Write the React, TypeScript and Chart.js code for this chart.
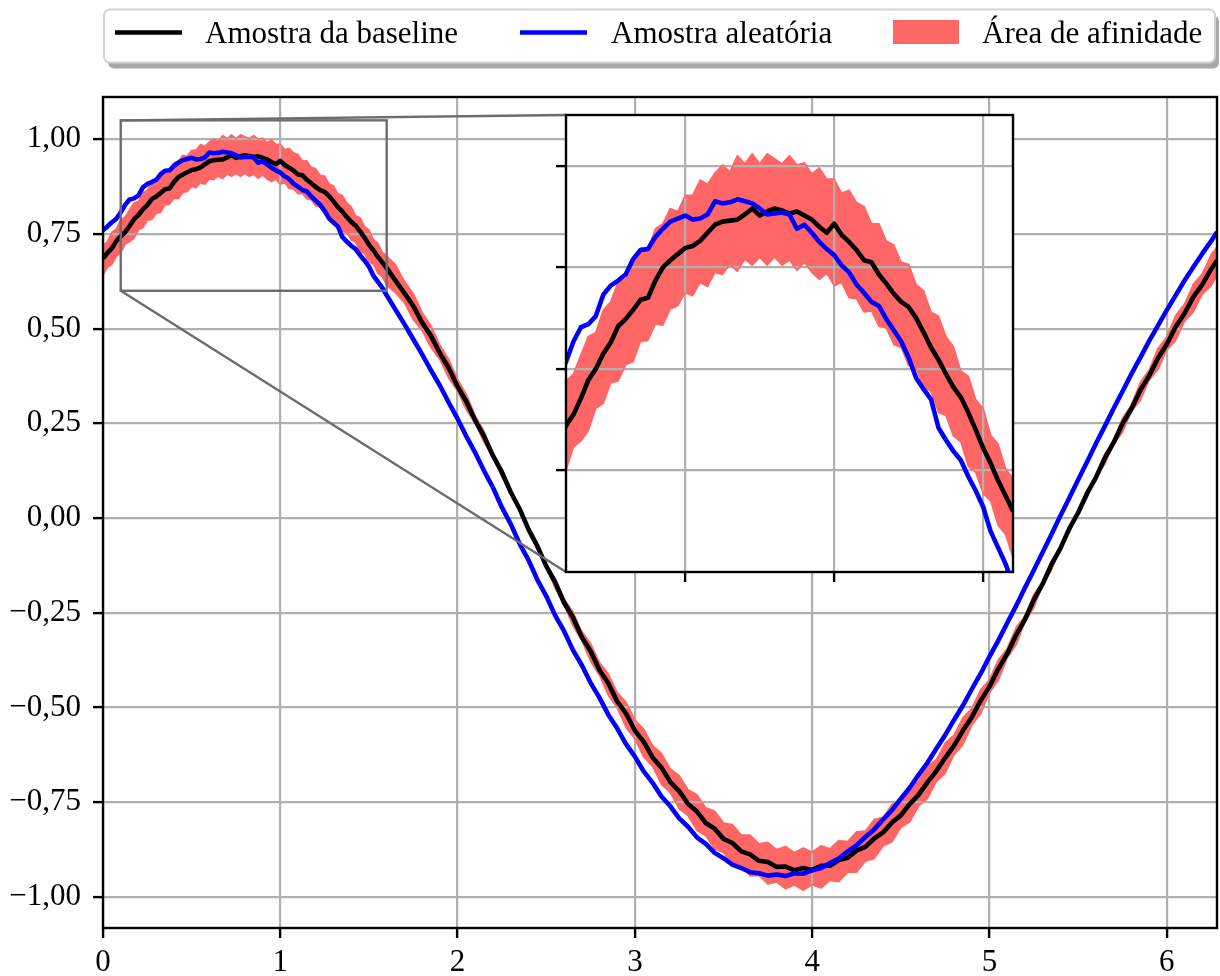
import { useEffect, useRef } from 'react';
import { Chart, registerables } from 'chart.js';

Chart.register(...registerables);

// Sample positions (denser over the zoomed stretch 0 – 1.6)
const xs = [
  0, 0.025, 0.05, 0.075, 0.1, 0.125, 0.15, 0.175, 0.2, 0.225,
  0.25, 0.275, 0.3, 0.325, 0.35, 0.375, 0.4, 0.425, 0.45, 0.475,
  0.5, 0.525, 0.55, 0.575, 0.6, 0.625, 0.65, 0.675, 0.7, 0.725,
  0.75, 0.775, 0.8, 0.825, 0.85, 0.875, 0.9, 0.925, 0.95, 0.975,
  1.0, 1.025, 1.05, 1.075, 1.1, 1.125, 1.15, 1.175, 1.2, 1.225,
  1.25, 1.275, 1.3, 1.325, 1.35, 1.375, 1.4, 1.425, 1.45, 1.475,
  1.5, 1.525, 1.55, 1.575, 1.6,
  1.65, 1.7, 1.75, 1.8, 1.85, 1.9, 1.95, 2.0, 2.05, 2.1,
  2.15, 2.2, 2.25, 2.3, 2.35, 2.4, 2.45, 2.5, 2.55, 2.6,
  2.65, 2.7, 2.75, 2.8, 2.85, 2.9, 2.95, 3.0, 3.05, 3.1,
  3.15, 3.2, 3.25, 3.3, 3.35, 3.4, 3.45, 3.5, 3.55, 3.6,
  3.65, 3.7, 3.75, 3.8, 3.85, 3.9, 3.95, 4.0, 4.05, 4.1,
  4.15, 4.2, 4.25, 4.3, 4.35, 4.4, 4.45, 4.5, 4.55, 4.6,
  4.65, 4.7, 4.75, 4.8, 4.85, 4.9, 4.95, 5.0, 5.05, 5.1,
  5.15, 5.2, 5.25, 5.3, 5.35, 5.4, 5.45, 5.5, 5.55, 5.6,
  5.65, 5.7, 5.75, 5.8, 5.85, 5.9, 5.95, 6.0, 6.05, 6.1,
  6.15, 6.2, 6.25, 6.2832,
];

// "Amostra da baseline"
const baseline = [
  0.686, 0.700, 0.712, 0.731, 0.744, 0.755, 0.771, 0.789, 0.800, 0.815,
  0.826, 0.842, 0.849, 0.858, 0.868, 0.870, 0.887, 0.900, 0.907, 0.913,
  0.919, 0.921, 0.926, 0.934, 0.942, 0.945, 0.946, 0.947, 0.952, 0.958,
  0.951, 0.955, 0.958, 0.956, 0.953, 0.955, 0.951, 0.947, 0.940, 0.934,
  0.943, 0.932, 0.925, 0.917, 0.907, 0.905, 0.893, 0.884, 0.874, 0.866,
  0.861, 0.850, 0.836, 0.821, 0.809, 0.795, 0.782, 0.772, 0.757, 0.740,
  0.722, 0.707, 0.690, 0.675, 0.660,
  0.627, 0.594, 0.560, 0.516, 0.481, 0.435, 0.396, 0.347, 0.307, 0.257,
  0.215, 0.164, 0.121, 0.068, 0.024, -0.030, -0.074, -0.127, -0.169, -0.223,
  -0.262, -0.314, -0.351, -0.401, -0.436, -0.484, -0.516, -0.561, -0.591, -0.632,
  -0.659, -0.697, -0.721, -0.755, -0.775, -0.805, -0.820, -0.847, -0.858, -0.880,
  -0.888, -0.905, -0.908, -0.921, -0.920, -0.930, -0.924, -0.929, -0.918, -0.918,
  -0.903, -0.897, -0.878, -0.868, -0.846, -0.830, -0.804, -0.785, -0.755, -0.731,
  -0.698, -0.668, -0.633, -0.601, -0.561, -0.526, -0.482, -0.445, -0.398, -0.358,
  -0.309, -0.268, -0.216, -0.174, -0.122, -0.080, -0.028, 0.014, 0.065, 0.107,
  0.158, 0.199, 0.249, 0.288, 0.337, 0.375, 0.422, 0.459, 0.505, 0.540,
  0.584, 0.616, 0.657, 0.680,
];

// "Amostra aleatória"
const randomSample = [
  0.760, 0.770, 0.781, 0.790, 0.807, 0.827, 0.841, 0.844, 0.852, 0.873,
  0.882, 0.887, 0.893, 0.908, 0.917, 0.918, 0.930, 0.938, 0.945, 0.948,
  0.951, 0.947, 0.948, 0.952, 0.965, 0.963, 0.964, 0.967, 0.965, 0.963,
  0.958, 0.952, 0.953, 0.954, 0.952, 0.938, 0.942, 0.934, 0.925, 0.918,
  0.912, 0.902, 0.895, 0.883, 0.875, 0.866, 0.862, 0.849, 0.838, 0.827,
  0.811, 0.791, 0.780, 0.770, 0.742, 0.730, 0.719, 0.710, 0.694, 0.680,
  0.664, 0.640, 0.624, 0.608, 0.588,
  0.550, 0.512, 0.472, 0.432, 0.390, 0.350, 0.305, 0.262, 0.215, 0.172,
  0.124, 0.080, 0.028, -0.016, -0.068, -0.111, -0.163, -0.206, -0.257, -0.298,
  -0.348, -0.388, -0.435, -0.474, -0.519, -0.555, -0.597, -0.630, -0.669, -0.699,
  -0.735, -0.761, -0.793, -0.815, -0.843, -0.860, -0.884, -0.898, -0.915, -0.924,
  -0.935, -0.938, -0.944, -0.941, -0.945, -0.938, -0.939, -0.930, -0.924, -0.911,
  -0.899, -0.880, -0.864, -0.842, -0.822, -0.796, -0.771, -0.741, -0.712, -0.678,
  -0.646, -0.609, -0.573, -0.533, -0.495, -0.452, -0.411, -0.366, -0.323, -0.277,
  -0.232, -0.184, -0.138, -0.090, -0.043, 0.006, 0.053, 0.101, 0.148, 0.196,
  0.242, 0.289, 0.334, 0.380, 0.423, 0.467, 0.508, 0.549, 0.588, 0.627,
  0.663, 0.698, 0.731, 0.755,
];

// "Área de afinidade" – upper and lower edges
const bandUpper = [
  0.719, 0.730, 0.755, 0.763, 0.788, 0.795, 0.814, 0.832, 0.836, 0.858,
  0.866, 0.886, 0.888, 0.905, 0.919, 0.919, 0.938, 0.943, 0.958, 0.955,
  0.971, 0.971, 0.986, 0.982, 0.993, 1.001, 0.994, 1.010, 1.002, 1.012,
  1.002, 1.012, 1.007, 1.002, 1.010, 1.001, 1.003, 0.992, 0.998, 0.987,
  0.987, 0.973, 0.976, 0.964, 0.960, 0.943, 0.943, 0.926, 0.922, 0.905,
  0.903, 0.883, 0.877, 0.856, 0.852, 0.832, 0.822, 0.798, 0.793, 0.770,
  0.761, 0.735, 0.726, 0.702, 0.692,
  0.669, 0.625, 0.593, 0.543, 0.508, 0.457, 0.419, 0.366, 0.326, 0.270,
  0.229, 0.172, 0.128, 0.071, 0.026, -0.024, -0.069, -0.121, -0.159, -0.212,
  -0.247, -0.299, -0.331, -0.381, -0.411, -0.460, -0.486, -0.533, -0.557, -0.601,
  -0.621, -0.662, -0.680, -0.717, -0.730, -0.765, -0.773, -0.805, -0.809, -0.837,
  -0.837, -0.860, -0.856, -0.875, -0.867, -0.883, -0.871, -0.882, -0.865, -0.873,
  -0.851, -0.854, -0.828, -0.826, -0.796, -0.790, -0.756, -0.747, -0.709, -0.695,
  -0.654, -0.638, -0.594, -0.573, -0.527, -0.503, -0.453, -0.426, -0.374, -0.344,
  -0.289, -0.258, -0.201, -0.169, -0.112, -0.080, -0.023, 0.020, 0.071, 0.109,
  0.169, 0.205, 0.264, 0.299, 0.358, 0.391, 0.448, 0.479, 0.535, 0.565,
  0.618, 0.645, 0.695, 0.716,
];

const bandLower = [
  0.641, 0.662, 0.669, 0.691, 0.700, 0.723, 0.729, 0.739, 0.761, 0.766,
  0.786, 0.788, 0.804, 0.807, 0.827, 0.828, 0.844, 0.843, 0.859, 0.862,
  0.875, 0.872, 0.885, 0.881, 0.895, 0.893, 0.903, 0.896, 0.908, 0.902,
  0.910, 0.902, 0.910, 0.902, 0.907, 0.897, 0.905, 0.895, 0.888, 0.894,
  0.882, 0.885, 0.870, 0.869, 0.856, 0.857, 0.842, 0.840, 0.824, 0.821,
  0.803, 0.801, 0.782, 0.778, 0.757, 0.754, 0.734, 0.728, 0.704, 0.698,
  0.677, 0.670, 0.646, 0.637, 0.614,
  0.595, 0.568, 0.524, 0.495, 0.450, 0.418, 0.369, 0.335, 0.285, 0.249,
  0.198, 0.161, 0.108, 0.070, 0.016, -0.032, -0.085, -0.128, -0.186, -0.228,
  -0.284, -0.323, -0.378, -0.415, -0.468, -0.501, -0.553, -0.583, -0.631, -0.656,
  -0.703, -0.725, -0.768, -0.786, -0.825, -0.839, -0.874, -0.883, -0.914, -0.917,
  -0.945, -0.944, -0.966, -0.961, -0.979, -0.969, -0.983, -0.968, -0.977, -0.957,
  -0.960, -0.936, -0.935, -0.906, -0.899, -0.866, -0.855, -0.817, -0.802, -0.761,
  -0.741, -0.696, -0.674, -0.625, -0.599, -0.547, -0.517, -0.462, -0.428, -0.370,
  -0.335, -0.274, -0.237, -0.175, -0.138, -0.076, -0.039, 0.012, 0.053, 0.109,
  0.141, 0.195, 0.226, 0.281, 0.310, 0.363, 0.392, 0.443, 0.469, 0.519,
  0.544, 0.591, 0.613, 0.640,
];

const xTicks = [0, 1, 2, 3, 4, 5, 6];
const yTicks = [-1, -0.75, -0.5, -0.25, 0, 0.25, 0.5, 0.75, 1];
const insetXTicks = [0.5, 1.0, 1.5];
const insetYTicks = [0.7, 0.8, 0.9, 1.0];
const zoomXRange = [0.1, 1.6];
const zoomYRange = [0.6, 1.05];
const legendLabels = ['Amostra da baseline', 'Amostra aleatória', 'Área de afinidade'];

// Layout of the magnified panel on the page
const INSET = { left: 566, top: 115, right: 1013, bottom: 572 };
const INSET_CANVAS = { left: 556, top: 105, width: 462, height: 477 };

const FONT_FAMILY = '"Liberation Serif", "Times New Roman", Times, serif';
const RED = '#ff6666';
const GRID = '#b0b0b0';
const LINE_W = 4.6;

const toPoints = (ys: number[]) => xs.map((x, i) => ({ x, y: ys[i] }));

const fmtY = (v: number) => v.toFixed(2).replace('.', ',').replace('-', '\u2212');

function makeDatasets(): any[] {
  return [
    {
      label: legendLabels[0],
      data: toPoints(baseline),
      borderColor: '#000000',
      borderWidth: LINE_W,
      pointRadius: 0,
      fill: false,
      order: 2,
      clip: 0,
    },
    {
      label: legendLabels[1],
      data: toPoints(randomSample),
      borderColor: '#0000ff',
      borderWidth: LINE_W,
      pointRadius: 0,
      fill: false,
      order: 1,
      clip: 0,
    },
    {
      label: legendLabels[2],
      data: toPoints(bandUpper),
      borderColor: RED,
      borderWidth: 1.5,
      backgroundColor: RED,
      pointRadius: 0,
      fill: '+1',
      order: 3,
      clip: 0,
    },
    {
      label: 'lower',
      data: toPoints(bandLower),
      borderColor: RED,
      borderWidth: 1.5,
      pointRadius: 0,
      fill: false,
      order: 4,
      clip: 0,
    },
  ];
}

function roundedRect(ctx: CanvasRenderingContext2D, x: number, y: number, w: number, h: number, r: number) {
  ctx.beginPath();
  ctx.moveTo(x + r, y);
  ctx.lineTo(x + w - r, y);
  ctx.arcTo(x + w, y, x + w, y + r, r);
  ctx.lineTo(x + w, y + h - r);
  ctx.arcTo(x + w, y + h, x + w - r, y + h, r);
  ctx.lineTo(x + r, y + h);
  ctx.arcTo(x, y + h, x, y + h - r, r);
  ctx.lineTo(x, y + r);
  ctx.arcTo(x, y, x + r, y, r);
  ctx.closePath();
}

const mainOverlay = {
  id: 'mainOverlay',
  afterDatasetsDraw(chart: any) {
    const ctx: CanvasRenderingContext2D = chart.ctx;
    const { left, top, right, bottom } = chart.chartArea;
    const sx = chart.scales.x;
    const sy = chart.scales.y;
    ctx.save();

    // zoom window marker and connector lines
    const rx0 = sx.getPixelForValue(zoomXRange[0]);
    const rx1 = sx.getPixelForValue(zoomXRange[1]);
    const ry0 = sy.getPixelForValue(zoomYRange[1]);
    const ry1 = sy.getPixelForValue(zoomYRange[0]);
    ctx.strokeStyle = '#6c6c6c';
    ctx.lineWidth = 2.4;
    ctx.strokeRect(rx0, ry0, rx1 - rx0, ry1 - ry0);
    ctx.beginPath();
    ctx.moveTo(rx0, ry0);
    ctx.lineTo(INSET.left, INSET.top);
    ctx.moveTo(rx0, ry1);
    ctx.lineTo(INSET.left, INSET.bottom);
    ctx.stroke();

    // spines
    ctx.strokeStyle = '#000000';
    ctx.lineWidth = 2.4;
    ctx.strokeRect(left, top, right - left, bottom - top);
    ctx.restore();
  },
  afterDraw(chart: any) {
    const ctx: CanvasRenderingContext2D = chart.ctx;
    ctx.save();
    // legend frame with drop shadow
    const bx = 104, by = 9.5, bw = 1111, bh = 53, r = 6;
    roundedRect(ctx, bx + 4, by + 6, bw, bh, r);
    ctx.fillStyle = '#a8a8a8';
    ctx.fill();
    roundedRect(ctx, bx, by, bw, bh, r);
    ctx.fillStyle = '#ffffff';
    ctx.fill();
    ctx.strokeStyle = '#d2d2d2';
    ctx.lineWidth = 2;
    ctx.stroke();

    const midY = 32.5;
    ctx.lineCap = 'butt';
    ctx.lineWidth = LINE_W;
    ctx.strokeStyle = '#000000';
    ctx.beginPath();
    ctx.moveTo(115, midY);
    ctx.lineTo(182, midY);
    ctx.stroke();
    ctx.strokeStyle = '#0000ff';
    ctx.beginPath();
    ctx.moveTo(520, midY);
    ctx.lineTo(587, midY);
    ctx.stroke();
    ctx.fillStyle = RED;
    ctx.fillRect(893, 20, 66, 24);

    ctx.fillStyle = '#000000';
    ctx.font = `31px ${FONT_FAMILY}`;
    ctx.textBaseline = 'alphabetic';
    ctx.textAlign = 'left';
    ctx.fillText(legendLabels[0], 205, 43);
    ctx.fillText(legendLabels[1], 611, 43);
    ctx.fillText(legendLabels[2], 982, 43);
    ctx.restore();
  },
};

const insetOverlay = {
  id: 'insetOverlay',
  afterDatasetsDraw(chart: any) {
    const ctx: CanvasRenderingContext2D = chart.ctx;
    const { left, top, right, bottom } = chart.chartArea;
    ctx.save();
    ctx.strokeStyle = '#000000';
    ctx.lineWidth = 2.4;
    ctx.strokeRect(left, top, right - left, bottom - top);
    ctx.restore();
  },
};

function gridOpts() {
  return {
    color: GRID,
    lineWidth: 2.2,
    tickColor: '#000000',
    tickWidth: 2.4,
    tickLength: 10,
    drawTicks: true,
  };
}

export default function App() {
  const mainRef = useRef<HTMLCanvasElement>(null);
  const insetRef = useRef<HTMLCanvasElement>(null);

  useEffect(() => {
    document.body.style.margin = '0';
    const tickFont = { family: FONT_FAMILY, size: 31 };

    const main = new Chart(mainRef.current as HTMLCanvasElement, {
      type: 'line',
      data: { datasets: makeDatasets() },
      options: {
        responsive: false,
        animation: false,
        devicePixelRatio: 1,
        events: [],
        layout: { padding: { left: 0, right: 3, top: 97, bottom: 0 } },
        elements: { line: { tension: 0, borderJoinStyle: 'round' }, point: { radius: 0 } },
        plugins: {
          legend: { display: false },
          tooltip: { enabled: false },
          filler: { drawTime: 'beforeDraw' },
        },
        scales: {
          x: {
            type: 'linear',
            min: 0,
            max: 2 * Math.PI,
            border: { display: false },
            grid: gridOpts(),
            afterBuildTicks: (s: any) => { s.ticks = xTicks.map((v) => ({ value: v })); },
            afterFit: (s: any) => { s.height = 48; },
            ticks: {
              font: tickFont,
              color: '#000000',
              padding: 6,
              autoSkip: false,
              maxRotation: 0,
              callback: (v: any) => String(v),
            },
          },
          y: {
            type: 'linear',
            min: -1.0823,
            max: 1.1116,
            border: { display: false },
            grid: gridOpts(),
            afterBuildTicks: (s: any) => { s.ticks = yTicks.map((v) => ({ value: v })); },
            afterFit: (s: any) => { s.width = 103; },
            ticks: {
              font: tickFont,
              color: '#000000',
              padding: 12,
              autoSkip: false,
              callback: (v: any) => fmtY(Number(v)),
            },
          },
        },
      } as any,
      plugins: [mainOverlay],
    });

    const inset = new Chart(insetRef.current as HTMLCanvasElement, {
      type: 'line',
      data: { datasets: makeDatasets() },
      options: {
        responsive: false,
        animation: false,
        devicePixelRatio: 1,
        events: [],
        layout: { padding: { left: 0, right: 5, top: 10, bottom: 0 } },
        elements: { line: { tension: 0, borderJoinStyle: 'round' }, point: { radius: 0 } },
        plugins: {
          legend: { display: false },
          tooltip: { enabled: false },
          filler: { drawTime: 'beforeDraw' },
        },
        scales: {
          x: {
            type: 'linear',
            min: zoomXRange[0],
            max: zoomXRange[1],
            border: { display: false },
            grid: gridOpts(),
            afterBuildTicks: (s: any) => { s.ticks = insetXTicks.map((v) => ({ value: v })); },
            afterFit: (s: any) => { s.height = 10; },
            ticks: { display: false },
          },
          y: {
            type: 'linear',
            min: zoomYRange[0],
            max: zoomYRange[1],
            border: { display: false },
            grid: gridOpts(),
            afterBuildTicks: (s: any) => { s.ticks = insetYTicks.map((v) => ({ value: v })); },
            afterFit: (s: any) => { s.width = 10; },
            ticks: { display: false },
          },
        },
      } as any,
      plugins: [insetOverlay],
    });

    return () => {
      main.destroy();
      inset.destroy();
    };
  }, []);

  return (
    <div style={{ position: 'absolute', left: 0, top: 0, width: 1220, height: 976, background: '#ffffff' }}>
      <canvas
        ref={mainRef}
        width={1220}
        height={976}
        style={{ position: 'absolute', left: 0, top: 0 }}
      />
      <div
        style={{
          position: 'absolute',
          left: INSET.left,
          top: INSET.top,
          width: INSET.right - INSET.left,
          height: INSET.bottom - INSET.top,
          background: '#ffffff',
        }}
      />
      <canvas
        ref={insetRef}
        width={INSET_CANVAS.width}
        height={INSET_CANVAS.height}
        style={{ position: 'absolute', left: INSET_CANVAS.left, top: INSET_CANVAS.top }}
      />
    </div>
  );
}
